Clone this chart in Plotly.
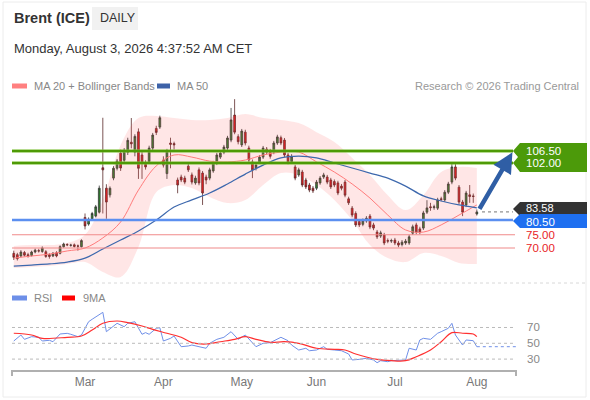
import pandas as pd
import plotly.graph_objects as go

# --- data ---
dates = pd.bdate_range("2026-02-02", "2026-08-03")

opens = [68.0, 67.5, 67.0, 68.3, 67.5, 67.2, 68.5, 69.0, 68.7, 68.6, 67.5, 67.0, 68.2, 68.0, 70.5, 71.3, 71.0, 71.2, 70.8, 70.5,
         81.5, 79.0, 81.0, 82.0, 83.5, 100.2, 92.5, 90.0, 96.3, 100.0, 105.7, 103.0, 106.0, 109.8, 106.0, 113.7, 105.0, 101.5, 102.5, 107.6, 115.0, 115.5,
         103.1, 98.0, 109.5, 109.3, 95.6, 96.7, 96.3, 100.8, 97.5, 94.5, 99.4, 98.2, 96.7, 96.3, 99.0, 102.0, 104.2, 106.0, 107.6, 110.6, 120.0, 111.9,
         108.8, 113.6, 107.6, 102.4, 100.0, 102.3, 104.2, 107.2, 106.5, 106.0, 109.5, 111.5, 110.6, 105.0, 102.5, 100.5, 97.5, 98.6, 95.6, 93.7, 92.5,
         92.5, 94.5, 96.7, 96.7, 95.6, 95.0, 94.5, 93.3, 94.8, 88.5, 85.0, 83.0, 80.0, 78.9, 80.2, 82.0, 78.7, 76.0, 74.5, 74.9, 72.8, 72.6,
         73.0, 71.9, 71.3, 71.9, 71.9, 75.6, 78.7, 77.2, 77.5, 83.5, 85.5, 85.2, 85.0, 88.5, 88.1, 91.0, 94.8, 100.5, 92.9, 87.3, 86.2, 90.0, 89.6,
         82.8]
highs = [69.0, 68.2, 69.2, 68.9, 68.2, 69.0, 69.8, 69.7, 70.6, 69.2, 68.0, 68.5, 68.8, 71.0, 72.0, 71.8, 71.6, 71.7, 71.3, 73.3,
         83.0, 81.5, 83.6, 86.2, 93.5, 119.0, 94.0, 93.2, 100.8, 103.5, 107.0, 107.6, 111.5, 118.9, 112.8, 115.0, 106.2, 103.0, 108.5, 113.3, 116.0, 119.8,
         104.5, 107.3, 111.5, 110.0, 96.5, 97.6, 97.2, 102.3, 98.4, 97.2, 100.3, 99.0, 97.6, 100.2, 102.8, 105.8, 106.5, 108.8, 112.2, 122.7, 126.0, 112.8,
         114.8, 114.5, 108.5, 103.3, 102.0, 105.0, 108.4, 108.0, 107.3, 110.3, 112.6, 112.3, 111.4, 105.8, 105.3, 101.3, 100.2, 99.4, 96.4, 94.5, 93.3,
         95.6, 97.1, 98.3, 97.5, 96.4, 95.8, 95.3, 94.1, 95.6, 89.3, 85.8, 83.8, 80.8, 81.1, 82.0, 82.8, 79.5, 76.8, 76.5, 75.7, 73.6, 73.5,
         73.8, 72.7, 73.0, 73.4, 75.0, 78.8, 79.5, 78.0, 84.0, 88.0, 87.0, 86.3, 88.9, 89.3, 91.8, 94.9, 102.2, 102.2, 93.7, 88.1, 91.5, 93.7, 90.5,
         84.5]
lows = [65.5, 65.3, 66.5, 66.8, 66.4, 66.8, 68.0, 68.3, 68.2, 66.3, 66.0, 66.6, 66.5, 67.6, 70.1, 70.7, 70.5, 70.2, 69.0, 70.2,
        77.0, 78.4, 80.3, 81.5, 83.0, 83.0, 81.0, 89.0, 95.5, 99.2, 99.0, 102.2, 105.0, 107.5, 104.5, 96.0, 96.0, 99.5, 101.8, 106.8, 112.5, 114.8,
        100.3, 96.0, 100.0, 107.0, 90.6, 94.8, 94.0, 98.6, 93.9, 93.8, 93.6, 86.2, 94.0, 95.5, 98.3, 101.2, 103.5, 105.3, 106.9, 109.8, 112.8, 109.0,
        108.0, 108.6, 102.2, 96.3, 99.2, 101.6, 103.5, 105.2, 103.6, 105.3, 108.8, 108.7, 104.2, 101.5, 101.8, 95.5, 96.8, 92.9, 92.2, 91.0, 90.7,
        91.8, 93.8, 96.0, 94.0, 92.2, 92.9, 89.9, 91.7, 89.1, 86.2, 81.6, 77.9, 77.9, 78.2, 79.5, 77.1, 76.7, 73.4, 73.8, 71.1, 71.8, 71.9,
        71.1, 70.3, 70.6, 71.2, 71.2, 74.9, 75.2, 75.2, 76.8, 82.8, 84.0, 84.4, 84.3, 87.6, 87.4, 90.3, 94.0, 95.5, 86.5, 82.0, 85.4, 87.0, 87.0,
        82.2]
closes = [66.5, 66.0, 68.5, 67.3, 67.0, 68.5, 69.2, 68.9, 70.0, 66.8, 66.8, 68.0, 67.0, 70.5, 71.5, 71.2, 71.1, 70.6, 70.7, 72.8,
          78.3, 80.8, 83.0, 85.5, 92.5, 99.4, 87.3, 92.5, 100.0, 102.7, 100.1, 106.8, 110.5, 109.2, 112.0, 100.0, 102.0, 100.5, 107.6, 112.5, 113.5, 119.0,
          101.2, 106.5, 109.0, 108.8, 93.7, 95.6, 94.8, 99.4, 94.8, 96.3, 94.5, 90.7, 95.6, 99.4, 102.0, 105.0, 105.7, 108.0, 111.4, 118.2, 113.6, 110.0,
          114.0, 109.5, 103.1, 99.4, 101.2, 104.2, 107.6, 106.0, 104.5, 109.5, 111.8, 109.5, 105.0, 102.3, 104.5, 96.3, 99.4, 93.7, 93.0, 91.8, 91.5,
          94.8, 96.3, 97.5, 94.8, 93.0, 93.7, 90.7, 92.5, 89.9, 87.0, 82.4, 78.7, 78.7, 80.3, 81.2, 77.9, 77.5, 74.2, 75.7, 71.9, 72.6, 72.8,
          71.9, 71.1, 72.2, 72.6, 74.2, 78.0, 76.0, 76.0, 83.2, 85.1, 85.2, 85.5, 88.1, 88.3, 91.0, 94.1, 100.5, 96.3, 87.3, 83.5, 90.7, 89.4, 89.4,
          83.58]

# indicator values read every 5th bar
band_idx = list(range(0, 131, 5))
ma20 = [66.2, 67.0, 67.7, 68.9, 70.0, 73.8, 79.8, 91.8, 100.9, 105.0, 104.2, 102.7, 102.4, 103.1, 105.0,
        106.1, 106.1, 102.4, 98.6, 94.1, 88.8, 82.4, 76.8, 76.0, 78.7, 82.4, 86.2]
bb_upper = [70.8, 71.1, 71.1, 71.9, 75.0, 88.1, 108.8, 118.9, 119.7, 118.9, 118.2, 118.2, 118.9, 120.4, 118.9,
            118.2, 117.0, 113.6, 109.9, 103.9, 97.5, 89.9, 84.3, 89.9, 98.6, 100.5, 100.1]
bb_lower = [62.5, 62.9, 63.2, 64.0, 64.7, 61.0, 59.1, 70.4, 91.0, 93.7, 92.6, 89.2, 86.9, 88.1, 93.7,
            98.2, 97.5, 93.7, 88.1, 80.5, 71.1, 66.2, 64.7, 68.1, 67.0, 64.4, 64.0]
ma50 = [63.2, 63.6, 64.0, 64.7, 66.2, 69.6, 73.0, 76.4, 80.5, 85.4, 88.1, 90.7, 94.1, 97.8, 101.2,
        103.9, 104.6, 103.9, 102.0, 100.1, 98.2, 96.3, 93.3, 89.6, 87.7, 86.2, 85.1]

rsi_idx = [0, 2, 3, 5, 7, 8, 10, 11, 13, 15, 16, 18, 19, 21, 22, 24, 25, 26, 28, 29, 31, 32, 34, 36, 37, 38, 40, 41, 42,
           44, 45, 47, 49, 50, 52, 54, 55, 57, 59, 61, 63, 65, 68, 70, 72, 75, 77, 78, 80, 82, 83, 85, 87, 88, 90, 92,
           94, 95, 97, 99, 101, 102, 103, 105, 106, 108, 110, 111, 113, 114, 115, 117, 119, 120, 122, 123, 124, 126,
           127, 129, 130]
rsi = [52.9, 60.5, 55.0, 58.4, 57.6, 52.9, 53.8, 52.0, 61.8, 62.6, 61.4, 58.4, 60.5, 77.3, 80.4, 85.8, 89.2, 64.7, 71.0,
       75.3, 71.0, 75.3, 77.3, 61.4, 63.5, 61.4, 69.0, 69.7, 52.9, 56.3, 59.2, 45.7, 46.6, 47.8, 45.7, 43.7, 50.0, 55.0,
       57.6, 64.7, 55.0, 60.5, 45.7, 50.0, 50.8, 57.6, 53.3, 47.8, 41.5, 43.7, 40.6, 41.5, 45.7, 42.4, 41.5, 40.6, 36.5,
       28.9, 29.7, 31.0, 28.9, 25.4, 28.0, 26.7, 28.0, 28.0, 28.9, 43.7, 41.5, 54.2, 56.3, 55.0, 62.7, 64.7, 69.0, 75.3,
       60.5, 47.8, 54.2, 53.3, 45.7]
rsi_ma_idx = [0, 5, 8, 15, 19, 22, 25, 29, 32, 36, 39, 43, 47, 50, 54, 58, 62, 65, 68, 72, 76, 80, 85, 90, 93, 96,
              102, 106, 110, 113, 117, 120, 123, 126, 129, 130]
rsi_ma = [62.7, 60.5, 56.3, 57.6, 59.2, 66.8, 75.3, 78.2, 76.1, 71.9, 67.7, 62.7, 57.6, 50.8, 49.1, 52.0, 55.0, 58.4,
          55.0, 51.3, 52.0, 50.0, 43.7, 42.4, 41.5, 36.5, 29.7, 28.0, 28.0, 33.0, 41.5, 52.0, 63.5, 62.7, 61.8, 58.4]

levels_res = [106.50, 102.00]
level_piv = 80.50
levels_sup = [75.00, 70.00]
last_price = 83.58
month_ticks = ["2026-03-02", "2026-04-01", "2026-05-01", "2026-06-01", "2026-07-01", "2026-08-03"]
month_names = ["Mar", "Apr", "May", "Jun", "Jul", "Aug"]

# --- page geometry (pixels) ---
L, R, T, B = 12, 516, 90, 370


def px(x):
    return (x - L) / (R - L)


def py(y):
    return (B - y) / (B - T)


FONT = "Liberation Sans, Arial, sans-serif"
band_dates = [dates[i] for i in band_idx]

fig = go.Figure()

# bollinger band fill
fig.add_trace(go.Scatter(x=band_dates, y=bb_lower, mode='lines', line=dict(width=0, shape='spline'),
                         hoverinfo='skip'))
fig.add_trace(go.Scatter(x=band_dates, y=bb_upper, mode='lines', line=dict(width=0, shape='spline'),
                         fill='tonexty', fillcolor='rgba(255,90,90,0.15)', hoverinfo='skip'))
fig.add_trace(go.Scatter(x=band_dates, y=ma20, mode='lines', line=dict(color='#ff7b7b', width=1, shape='spline')))
fig.add_trace(go.Scatter(x=band_dates, y=ma50, mode='lines', line=dict(color='#3d68ad', width=1.2, shape='spline')))

fig.add_trace(go.Candlestick(x=dates, open=opens, high=highs, low=lows, close=closes,
                             increasing=dict(line=dict(color='#333333', width=0.8), fillcolor='#2e8b2e'),
                             decreasing=dict(line=dict(color='#5a2a2a', width=0.8), fillcolor='#e8161b'),
                             whiskerwidth=0, hoverinfo='skip'))

# RSI panel
fig.add_trace(go.Scatter(x=[dates[i] for i in rsi_idx], y=rsi, mode='lines', yaxis='y2',
                         line=dict(color='#7090e8', width=1)))
fig.add_trace(go.Scatter(x=[dates[-1], pd.Timestamp("2026-08-18")], y=[rsi[-1], rsi[-1]], mode='lines', yaxis='y2',
                         line=dict(color='#7090e8', width=1, dash='dot')))
fig.add_trace(go.Scatter(x=[dates[i] for i in rsi_ma_idx], y=rsi_ma, mode='lines', yaxis='y2',
                         line=dict(color='#ff3030', width=1.2, shape='spline')))

shapes = []
# outer card and header box
shapes.append(dict(type='rect', xref='paper', yref='paper', x0=px(3), x1=px(586), y0=py(397), y1=py(2),
                   line=dict(color='#ececec', width=1), layer='below'))
shapes.append(dict(type='rect', xref='paper', yref='paper', x0=px(92), x1=px(138), y0=py(30), y1=py(7),
                   fillcolor='#f1f1f1', line=dict(width=0), layer='below'))
# legend swatches
for x0, x1, yy, c in [(12, 27, 86, '#ff8080'), (157, 170, 86, '#3d62a8'), (12, 27, 298, '#6d8fe8'), (62, 75, 298, '#ff0000')]:
    shapes.append(dict(type='rect', xref='paper', yref='paper', x0=px(x0), x1=px(x1), y0=py(yy + 2.5), y1=py(yy - 2.5),
                       fillcolor=c, line=dict(width=0)))
# panel separator
shapes.append(dict(type='line', xref='paper', yref='paper', x0=0, x1=px(586), y0=py(283), y1=py(283),
                   line=dict(color='#d8d8d8', width=1, dash='dot')))
# rsi grid
for v in [70, 50, 30]:
    shapes.append(dict(type='line', xref='paper', yref='y2', x0=0, x1=px(515), y0=v, y1=v,
                       line=dict(color='#bbbbbb', width=1, dash='dot')))
# axis end ticks
for xx in [12, 516]:
    shapes.append(dict(type='line', xref='paper', yref='paper', x0=px(xx), x1=px(xx), y0=py(370), y1=py(376),
                       line=dict(color='#b0b0b0', width=2)))
# key levels
for lv in levels_res:
    shapes.append(dict(type='line', xref='paper', yref='y', x0=0, x1=px(513), y0=lv, y1=lv,
                       line=dict(color='rgba(120,190,50,0.55)', width=4)))
    shapes.append(dict(type='line', xref='paper', yref='y', x0=0, x1=px(513), y0=lv, y1=lv,
                       line=dict(color='#4e9a06', width=2)))
shapes.append(dict(type='line', xref='paper', yref='y', x0=0, x1=px(513), y0=level_piv, y1=level_piv,
                   line=dict(color='#5b8ff0', width=2.5)))
for lv in levels_sup:
    shapes.append(dict(type='line', xref='paper', yref='y', x0=0, x1=px(515), y0=lv, y1=lv,
                       line=dict(color='#f08a8a', width=1.2)))
shapes.append(dict(type='line', xref='paper', yref='y', x0=px(482), x1=px(513), y0=last_price, y1=last_price,
                   line=dict(color='#777777', width=1, dash='dot')))


def tag_path(pts):
    return "M " + " L ".join(f"{px(a):.5f},{py(b):.5f}" for a, b in pts) + " Z"


shapes.append(dict(type='path', xref='paper', yref='paper', fillcolor='#4c9a0a', line=dict(width=0),
                   path=tag_path([(513, 151), (520, 143), (587, 143), (587, 172), (520, 172), (513, 163), (518, 157)])))
shapes.append(dict(type='path', xref='paper', yref='paper', fillcolor='#333333', line=dict(width=0),
                   path=tag_path([(513, 209), (520, 202), (587, 202), (587, 216), (520, 216)])))
shapes.append(dict(type='path', xref='paper', yref='paper', fillcolor='#1e6ff0', line=dict(width=0),
                   path=tag_path([(513, 221), (520, 214), (587, 214), (587, 228), (520, 228)])))

ann = []
ann.append(dict(text="<b>Brent (ICE)</b>", x=px(12), y=py(18), font=dict(size=14.5, color='#333')))
ann.append(dict(text="DAILY", x=px(98), y=py(18), font=dict(size=12.5, color='#333')))
ann.append(dict(text="Monday, August 3, 2026 4:37:52 AM CET", x=px(12), y=py(48), font=dict(size=13, color='#333')))
ann.append(dict(text="MA 20 + Bollinger Bands", x=px(32), y=py(86), font=dict(size=11, color='#888')))
ann.append(dict(text="MA 50", x=px(175), y=py(86), font=dict(size=11, color='#888')))
ann.append(dict(text="RSI", x=px(32), y=py(298), font=dict(size=11, color='#888')))
ann.append(dict(text="9MA", x=px(81), y=py(298), font=dict(size=11, color='#888')))
ann.append(dict(text="Research © 2026 Trading Central", x=px(581), y=py(86), xanchor='right',
                font=dict(size=11, color='#999')))
for v, yy in [(70, 327), (50, 343), (30, 359)]:
    ann.append(dict(text=str(v), x=px(525), y=py(yy), font=dict(size=11.5, color='#888')))
for lv, yy in zip(levels_res, [151, 163]):
    ann.append(dict(text=f"{lv:.2f}", x=px(524), y=py(yy), font=dict(size=11.5, color='white')))
ann.append(dict(text=f"{last_price:.2f}", x=px(524), y=py(207.5), font=dict(size=11, color='white')))
ann.append(dict(text=f"{level_piv:.2f}", x=px(524), y=py(221.5), font=dict(size=11.5, color='white')))
for lv, yy in zip(levels_sup, [235, 248]):
    ann.append(dict(text=f"{lv:.2f}", x=px(524), y=py(yy), font=dict(size=11.5, color='#e8231f')))
for a in ann:
    a.update(xref='paper', yref='paper', showarrow=False, yanchor='middle')
    a.setdefault('xanchor', 'left')

# scenario arrow
ann.append(dict(text='', x="2026-08-17", y=106.0, ax="2026-08-03 12:00", ay=84.2, xref='x', yref='y',
                axref='x', ayref='y', showarrow=True, arrowhead=2, arrowsize=0.9, arrowwidth=4.5,
                arrowcolor='#2f5ea5', standoff=0))

fig.update_layout(
    width=590, height=400, margin=dict(l=L, r=590 - R, t=T, b=400 - B),
    paper_bgcolor='white', plot_bgcolor='white', showlegend=False,
    font=dict(family=FONT, color='#333'),
    shapes=shapes, annotations=ann,
    xaxis=dict(type='date', range=["2026-01-30 12:00", "2026-08-18"], rangebreaks=[dict(bounds=["sat", "mon"])],
               anchor='y2', tickvals=month_ticks, ticktext=month_names, showgrid=False, zeroline=False,
               showline=True, linecolor='#b0b0b0', linewidth=2, ticks='', tickfont=dict(size=12, color='#777'),
               rangeslider=dict(visible=False)),
    yaxis=dict(domain=[py(283), 1], range=[56.84, 129.45], visible=False),
    yaxis2=dict(domain=[0, py(300)], range=[16.2, 104.8], visible=False),
)

# drop the browser's default page margin so the figure sits at the top-left corner
fig.write_html("out.html", config={'displayModeBar': False},
               post_script="document.body.style.margin='0px';")
